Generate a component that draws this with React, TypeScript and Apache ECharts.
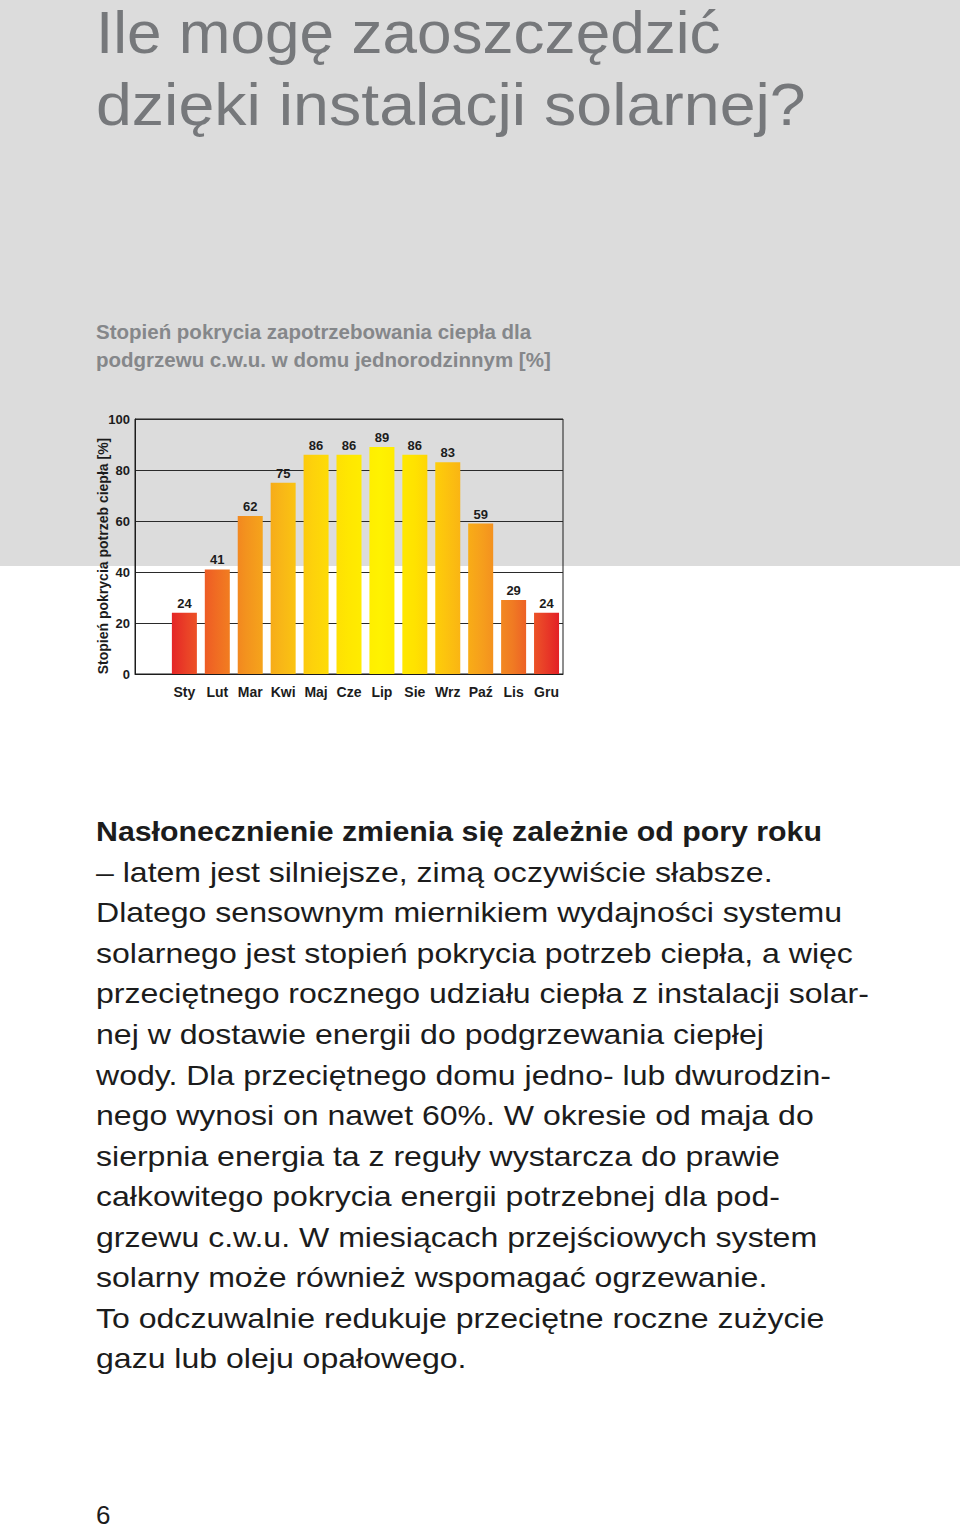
import React, { useEffect, useRef } from "react";
import * as echarts from "echarts";

const months = ["", "Sty", "Lut", "Mar", "Kwi", "Maj", "Cze", "Lip", "Sie", "Wrz", "Paź", "Lis", "Gru"];
const coverage: (number | null)[] = [null, 24, 41, 62, 75, 86, 86, 89, 86, 83, 59, 29, 24];
const yTicks = [0, 20, 40, 60, 80, 100];

const titleLines = ["Ile mogę zaoszczędzić", "dzięki instalacji solarnej?"];
const subtitleLines = [
  "Stopień pokrycia zapotrzebowania ciepła dla",
  "podgrzewu c.w.u. w domu jednorodzinnym [%]",
];
const yAxisTitle = "Stopień pokrycia potrzeb ciepła [%]";
const bodyLead = "Nasłonecznienie zmienia się zależnie od pory roku";
const bodyLines = [
  "– latem jest silniejsze, zimą oczywiście słabsze.",
  "Dlatego sensownym miernikiem wydajności systemu",
  "solarnego jest stopień pokrycia potrzeb ciepła, a więc",
  "przeciętnego rocznego udziału ciepła z instalacji solar-",
  "nej w dostawie energii do podgrzewania ciepłej",
  "wody. Dla przeciętnego domu jedno- lub dwurodzin-",
  "nego wynosi on nawet 60%. W okresie od maja do",
  "sierpnia energia ta z reguły wystarcza do prawie",
  "całkowitego pokrycia energii potrzebnej dla pod-",
  "grzewu c.w.u. W miesiącach przejściowych system",
  "solarny może również wspomagać ogrzewanie.",
  "To odczuwalnie redukuje przeciętne roczne zużycie",
  "gazu lub oleju opałowego.",
];
const pageNumber = "6";

export default function App() {
  const ref = useRef<HTMLDivElement>(null);
  useEffect(() => {
    document.body.style.margin = "0";
    if (!ref.current) return;
    const chart = echarts.init(ref.current, undefined, { renderer: "svg" });
    const font = "'Liberation Sans', Arial, sans-serif";
    const dark = "#1c1c1c";

    const graphics: any[] = [
      { type: "rect", z: -10, shape: { x: 0, y: 0, width: 960, height: 566 }, style: { fill: "#dcdcdc" } },
    ];
    titleLines.forEach((t, i) => {
      graphics.push({
        type: "text", x: 96, y: 32 + i * 72, scaleX: i === 1 ? 1.075 : 1.035,
        style: { text: t, fontFamily: font, fontSize: 60, lineHeight: 60, fill: "#76787b", verticalAlign: "middle", align: "left" },
      });
    });
    subtitleLines.forEach((t, i) => {
      graphics.push({
        type: "text", x: 96, y: 332 + i * 28, scaleX: 1.025,
        style: { text: t, fontFamily: font, fontSize: 20, fontWeight: "bold", fill: "#85878a", verticalAlign: "middle", align: "left" },
      });
    });
    graphics.push({
      type: "text", x: 103, y: 556, rotation: Math.PI / 2,
      style: { text: yAxisTitle, fontFamily: font, fontSize: 14, fontWeight: "bold", fill: dark, align: "center", verticalAlign: "middle" },
    });
    graphics.push({
      type: "text", x: 96, y: 831, scaleX: 1.083,
      style: { text: bodyLead, fontFamily: font, fontSize: 28, fontWeight: "bold", fill: dark, verticalAlign: "middle", align: "left" },
    });
    bodyLines.forEach((t, i) => {
      graphics.push({
        type: "text", x: 96, y: 872 + i * 40.55, scaleX: 1.145,
        style: { text: t, fontFamily: font, fontSize: 28, fill: dark, verticalAlign: "middle", align: "left" },
      });
    });
    graphics.push({
      type: "text", x: 96, y: 1515,
      style: { text: pageNumber, fontFamily: font, fontSize: 26, fill: dark, verticalAlign: "middle", align: "left" },
    });

    const gradient = new echarts.graphic.LinearGradient(
      168, 0, 560, 0,
      [
        { offset: 0, color: "#e31e26" },
        { offset: 0.05, color: "#ea4327" },
        { offset: 0.12, color: "#f06a23" },
        { offset: 0.2, color: "#f3931e" },
        { offset: 0.29, color: "#f8b717" },
        { offset: 0.37, color: "#fdd20b" },
        { offset: 0.46, color: "#ffe700" },
        { offset: 0.54, color: "#fff200" },
        { offset: 0.63, color: "#ffe200" },
        { offset: 0.71, color: "#fcc30e" },
        { offset: 0.8, color: "#f69f1c" },
        { offset: 0.88, color: "#f07a23" },
        { offset: 0.95, color: "#ea4728" },
        { offset: 1, color: "#e31e26" },
      ],
      true
    );

    chart.setOption({
      animation: false,
      backgroundColor: "transparent",
      textStyle: { fontFamily: font },
      grid: {
        left: 135, top: 419, width: 428, height: 255,
        show: true, borderColor: dark, borderWidth: 1, backgroundColor: "transparent",
        containLabel: false,
      },
      xAxis: {
        type: "category",
        data: months,
        axisTick: { show: false },
        axisLine: { show: true, lineStyle: { color: dark, width: 1 } },
        axisLabel: { color: dark, fontWeight: "bold", fontSize: 14, margin: 11, fontFamily: font, interval: 0 },
      },
      yAxis: {
        type: "value",
        min: yTicks[0],
        max: yTicks[yTicks.length - 1],
        interval: 20,
        axisLine: { show: true, lineStyle: { color: dark, width: 1 } },
        axisTick: { show: false },
        axisLabel: { color: dark, fontWeight: "bold", fontSize: 13, margin: 5, fontFamily: font },
        splitLine: { show: true, lineStyle: { color: "#2a2a2a", width: 1 } },
      },
      series: [
        {
          type: "bar",
          data: coverage,
          barWidth: 25,
          itemStyle: { color: gradient },
          label: {
            show: true, position: "top", distance: 3,
            color: dark, fontWeight: "bold", fontSize: 13, fontFamily: font,
          },
          z: 3,
        },
      ],
      graphic: graphics,
    });
    return () => chart.dispose();
  }, []);
  return <div ref={ref} style={{ width: 960, height: 1529 }} />;
}
